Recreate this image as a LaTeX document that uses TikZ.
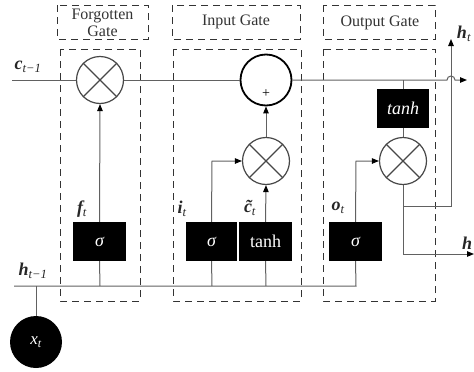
\documentclass[tikz,border=0pt]{standalone}
\usepackage{fontspec}
\setmainfont{Liberation Serif}
\usetikzlibrary{arrows.meta}
\newcommand{\lbl}[2]{{\bfseries\itshape #1}\textsubscript{\itshape #2}}
\begin{document}
\begin{tikzpicture}[x=1pt,y=-1pt,
  wire/.style={draw=black!62, line width=1pt},
  arr/.style={wire,-{Triangle[length=7pt,width=5.5pt,color=black]}},
  gatebox/.style={draw=black!80, dash pattern=on 7pt off 5pt, line width=0.9pt},
  gatetext/.style={font=\fontsize{16}{17}\selectfont, text=black!80, align=center},
  blk/.style={fill=black, text=white, minimum width=53pt, minimum height=39pt, inner sep=0pt, font=\fontsize{18}{20}\selectfont},
  mult/.style={circle, draw=black!72, line width=1.2pt, minimum size=47pt, inner sep=0pt},
  vlbl/.style={font=\fontsize{18}{20}\selectfont, text=black!85, inner sep=0pt}
]
\useasboundingbox (0,0) rectangle (474,372);
% gate boxes
\draw[gatebox] (57,5) rectangle (148,39);
\draw[gatebox] (60,49) rectangle (140,301);
\draw[gatebox] (172,5) rectangle (300,39);
\draw[gatebox] (173,49) rectangle (301,301);
\draw[gatebox] (323,5) rectangle (435,39);
\draw[gatebox] (323,49) rectangle (435,301);
\node[gatetext] (tf) at (102.5,23) {Forgotten\\Gate};
\node[gatetext] (ti) at (236,22) {Input Gate};
\node[gatetext] (to) at (380,23) {Output Gate};
% operators
\node[mult] (fx) at (100,80) {};
\draw[black!72, line width=1.2pt] (fx.north east) -- (fx.south west) (fx.north west) -- (fx.south east);
\node[circle, draw=black, line width=1.8pt, minimum size=51pt, inner sep=0pt] (plus) at (266,80) {};
\node[font=\fontsize{14}{14}\selectfont, inner sep=0pt] (plussign) at (266,94) {+};
\node[mult] (im) at (266,161) {};
\draw[black!72, line width=1.2pt] (im.north east) -- (im.south west) (im.north west) -- (im.south east);
\node[mult] (om) at (403,161) {};
\draw[black!72, line width=1.2pt] (om.north east) -- (om.south west) (om.north west) -- (om.south east);
% black boxes
\node[blk] (fs) at (99.5,241.5) {\itshape σ};
\node[blk, minimum width=51pt] (is) at (211.5,241.5) {\itshape σ};
\node[blk] (it) at (265.5,241.5) {tanh};
\node[blk] (os) at (355.5,241.5) {\itshape σ};
\node[blk, minimum width=52pt] (ot) at (403,108.5) {\itshape tanh};
\node[circle, fill=black, minimum size=52pt, inner sep=0pt, text=white, font=\fontsize{17}{19}\selectfont] (xt) at (36,342) {\itshape x\textsubscript{t}};
% coordinates
\coordinate (cstart) at (12,80);
\coordinate (hop1) at (447,80);
\coordinate (cend) at (467,80);
\coordinate (hstart) at (14,286);
\coordinate (hx) at (36,286);
\coordinate (hf) at (100,286);
\coordinate (hi) at (212,286);
\coordinate (hc) at (266,286);
\coordinate (ho) at (356,286);
\coordinate (ic) at (212,161);
\coordinate (oc) at (356,161);
\coordinate (ctap) at (403,80);
\coordinate (b1) at (403,206);
\coordinate (b2) at (451,206);
\coordinate (htop) at (451,39);
\coordinate (b3) at (403,254);
\coordinate (hout) at (474,254);
% cell line
\draw[wire] (cstart) -- (fx.west);
\draw[wire] (fx.east) -- (plus.west);
\draw[arr] (plus.east) -- (hop1) arc (180:360:4) -- (cend);
% hidden line
\draw[wire] (hstart) -- (ho) -- (os.south);
\draw[wire] (xt.north) -- (hx);
\draw[wire] (hf) -- (fs.south);
\draw[wire] (hi) -- (is.south);
\draw[wire] (hc) -- (it.south);
% gates
\draw[arr] (fs.north) -- (fx.south);
\draw[arr] (is.north) -- (ic) -- (im.west);
\draw[arr] (it.north) -- (im.south);
\draw[arr] (im.north) -- (plus.south);
\draw[arr] (os.north) -- (oc) -- (om.west);
\draw[wire] (ctap) -- (ot.north);
\draw[wire] (ot.south) -- (om.north);
\draw[wire] (om.south) -- (b3);
\draw[arr] (b3) -- (hout);
\draw[arr] (b1) -- (b2) -- (htop);
% labels
\node[vlbl] (lc) at (28,67) {\lbl{c}{t−1}};
\node[vlbl] (lh) at (33,271) {\lbl{h}{t−1}};
\node[vlbl] (lf) at (82,209) {\lbl{f}{t}};
\node[vlbl] (li) at (182,209) {\lbl{i}{t}};
\node[vlbl] (lct) at (250,208) {\lbl{\~{c}}{t}};
\node[vlbl] (lo) at (338,208) {\lbl{o}{t}};
\node[vlbl] (lht) at (464,34) {\lbl{h}{t}};
\node[vlbl, anchor=west] (lhb) at (462,243) {\bfseries\itshape h};
\end{tikzpicture}
\end{document}
